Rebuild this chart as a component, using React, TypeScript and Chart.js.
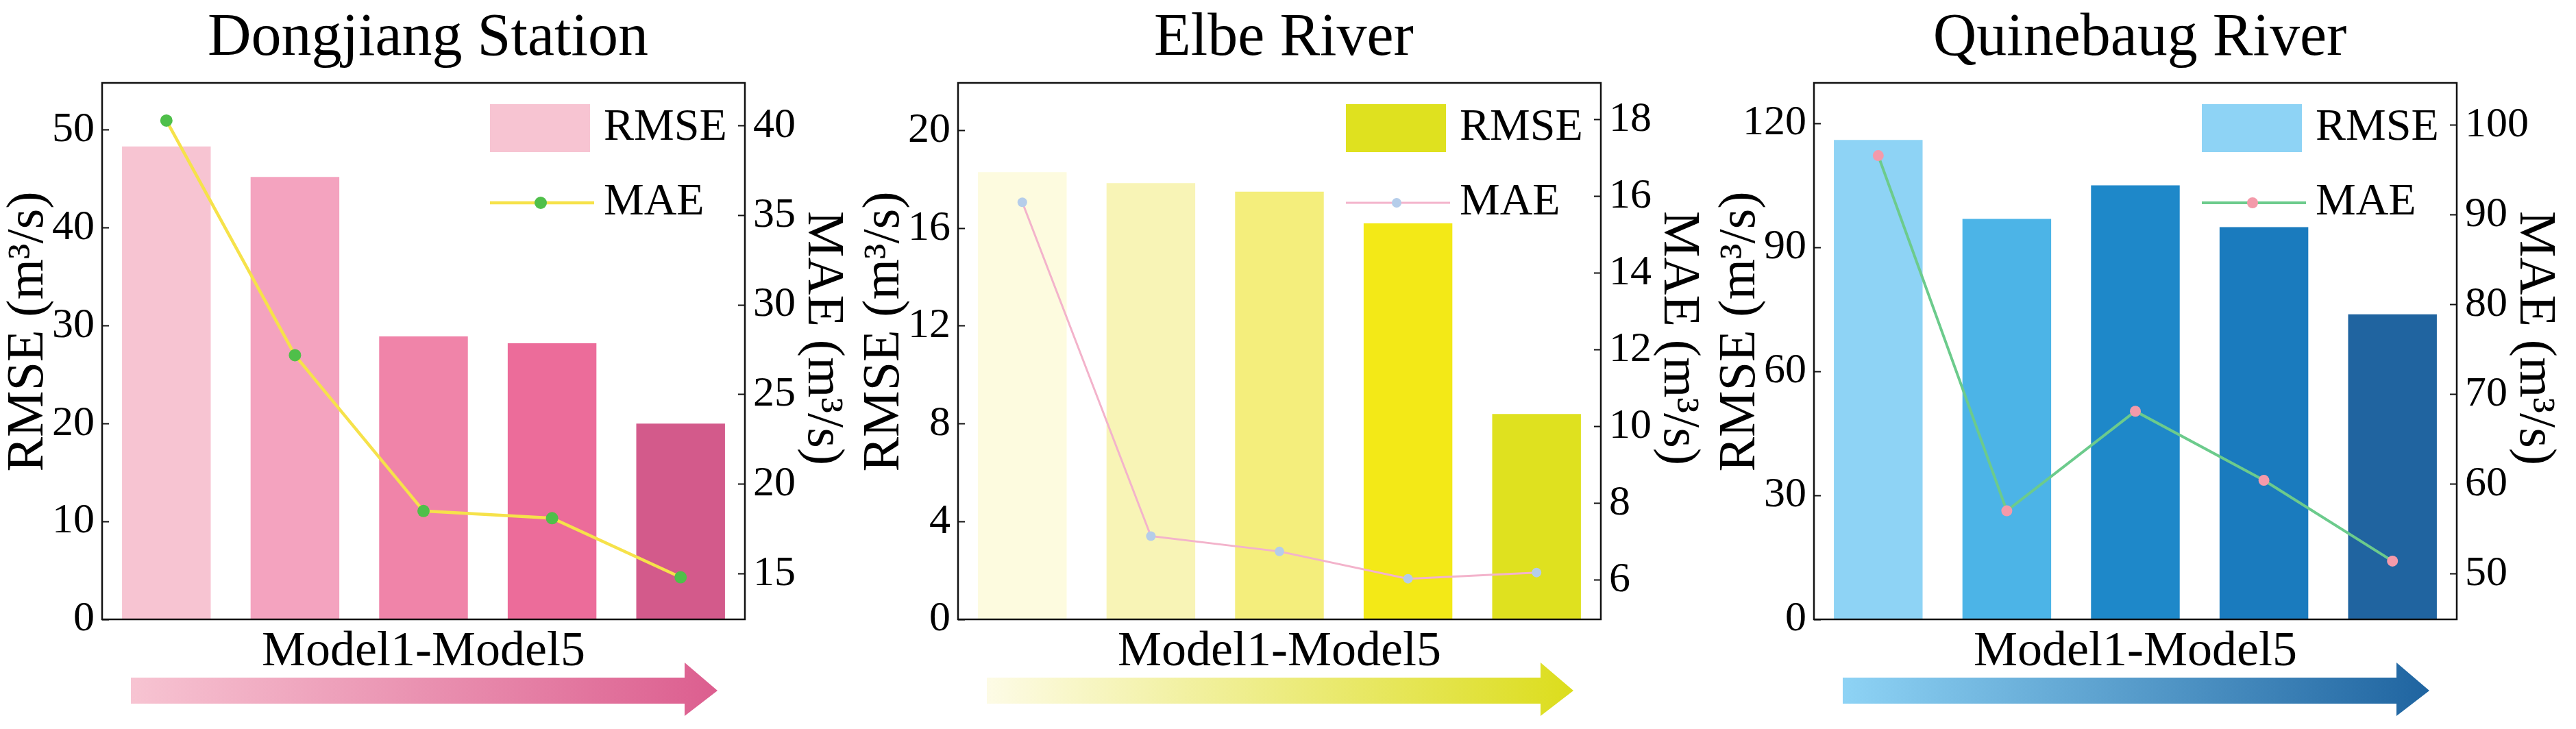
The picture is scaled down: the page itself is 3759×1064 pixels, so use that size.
import React, { useEffect, useRef } from "react";
import { Chart, registerables } from "chart.js";

Chart.register(...registerables);

const categories = ["Model1", "Model2", "Model3", "Model4", "Model5"];

const dongjiangRmse = [48.3, 45.2, 28.9, 28.2, 20.0];
const dongjiangMae = [40.3, 27.2, 18.5, 18.1, 14.8];
const elbeRmse = [18.3, 17.85, 17.5, 16.2, 8.4];
const elbeMae = [15.85, 7.15, 6.75, 6.04, 6.2];
const quinebaugRmse = [116.0, 96.9, 105.0, 94.9, 73.8];
const quinebaugMae = [96.6, 57.0, 68.1, 60.4, 51.4];

// [min, max, step]
const dongjiangLeftAxis = [0, 54.8, 10];
const dongjiangRightAxis = [12.45, 42.4, 5];
const elbeLeftAxis = [0, 21.95, 4];
const elbeRightAxis = [4.98, 18.96, 2];
const quinebaugLeftAxis = [0, 129.8, 30];
const quinebaugRightAxis = [44.9, 104.7, 10];

const PANEL_W = 1249;
const PANEL_H = 1064;
const FONT = "'Liberation Serif', 'Times New Roman', serif";

Chart.defaults.font.family = FONT;
Chart.defaults.color = "#000";

const panels = [
  {
    title: "Dongjiang Station",
    rmse: dongjiangRmse,
    mae: dongjiangMae,
    left: dongjiangLeftAxis,
    right: dongjiangRightAxis,
    bars: ["#F7C4D2", "#F4A3BF", "#F084A9", "#EC6C9A", "#D35A8B"],
    line: "#F6E24A",
    lineWidth: 4.5,
    point: "#4FBF4A",
    pointRadius: 9,
    legendBox: "#F7C4D2",
    arrow: ["#F7C4D2", "#DC5E8F"],
  },
  {
    title: "Elbe River",
    rmse: elbeRmse,
    mae: elbeMae,
    left: elbeLeftAxis,
    right: elbeRightAxis,
    bars: ["#FDFBDF", "#F8F4B6", "#F4EE7C", "#F3E917", "#DFE11F"],
    line: "#F3B3CB",
    lineWidth: 3,
    point: "#B5CDEA",
    pointRadius: 7,
    legendBox: "#DFE11F",
    arrow: ["#FDFBE6", "#DCDD1C"],
  },
  {
    title: "Quinebaug River",
    rmse: quinebaugRmse,
    mae: quinebaugMae,
    left: quinebaugLeftAxis,
    right: quinebaugRightAxis,
    bars: ["#8ED3F5", "#4CB4E7", "#1E88C9", "#1A7BBE", "#2064A0"],
    line: "#6CCB8C",
    lineWidth: 4,
    point: "#F49AAA",
    pointRadius: 8,
    legendBox: "#8ED3F5",
    arrow: ["#8ED3F5", "#1F64A0"],
  },
];

// frame, legend inside the plot and the gradient arrow under the x label
const decor = {
  id: "decor",
  afterDraw(chart: any, _args: any, opts: any) {
    const { ctx, chartArea: a } = chart;
    const bar = chart.data.datasets[0];
    const line = chart.data.datasets[1];
    ctx.save();

    ctx.strokeStyle = "#111";
    ctx.lineWidth = 2.5;
    ctx.strokeRect(a.left, a.top, a.right - a.left, a.bottom - a.top);

    const x0 = a.right - 372;
    const y0 = a.top + 66;
    const y1 = a.top + 175;
    ctx.fillStyle = opts.legendBox;
    ctx.fillRect(x0, y0 - 35, 146, 70);
    ctx.strokeStyle = line.borderColor;
    ctx.lineWidth = line.borderWidth;
    ctx.beginPath();
    ctx.moveTo(x0, y1);
    ctx.lineTo(x0 + 152, y1);
    ctx.stroke();
    ctx.fillStyle = line.pointBackgroundColor;
    ctx.beginPath();
    ctx.arc(x0 + 74, y1, line.pointRadius, 0, Math.PI * 2);
    ctx.fill();
    ctx.fillStyle = "#000";
    ctx.font = `66px ${FONT}`;
    ctx.textBaseline = "middle";
    ctx.textAlign = "left";
    ctx.fillText(bar.label, x0 + 166, y0);
    ctx.fillText(line.label, x0 + 166, y1);

    const bx0 = a.left + 42;
    const bx1 = a.right - 88;
    const tip = a.right - 40;
    const g = ctx.createLinearGradient(bx0, 0, tip, 0);
    g.addColorStop(0, opts.arrow[0]);
    g.addColorStop(1, opts.arrow[1]);
    ctx.fillStyle = g;
    ctx.beginPath();
    ctx.moveTo(bx0, a.bottom + 85);
    ctx.lineTo(bx1, a.bottom + 85);
    ctx.lineTo(bx1, a.bottom + 63);
    ctx.lineTo(tip, a.bottom + 104);
    ctx.lineTo(bx1, a.bottom + 141);
    ctx.lineTo(bx1, a.bottom + 123);
    ctx.lineTo(bx0, a.bottom + 123);
    ctx.closePath();
    ctx.fill();

    ctx.restore();
  },
};

const Panel = ({ cfg, left }: { cfg: any; left: number }) => {
  const chartRef = useRef<HTMLCanvasElement>(null);

  useEffect(() => {
    let chartInstance: Chart | undefined;
    if (chartRef.current) {
      const tickGrid = {
        drawOnChartArea: false,
        drawTicks: true,
        tickLength: -10,
        tickWidth: 2,
        color: "#111",
      };
      chartInstance = new Chart(chartRef.current, {
        type: "bar",
        data: {
          labels: categories,
          datasets: [
            {
              type: "bar",
              label: "RMSE",
              data: cfg.rmse,
              backgroundColor: cfg.bars,
              borderWidth: 0,
              categoryPercentage: 1,
              barPercentage: 0.69,
              yAxisID: "y",
              order: 1,
            },
            {
              type: "line",
              label: "MAE",
              data: cfg.mae,
              borderColor: cfg.line,
              borderWidth: cfg.lineWidth,
              pointBackgroundColor: cfg.point,
              pointBorderWidth: 0,
              pointRadius: cfg.pointRadius,
              tension: 0,
              yAxisID: "y1",
              order: 0,
            },
          ] as any,
        },
        options: {
          animation: false,
          responsive: false,
          devicePixelRatio: 1,
          layout: { padding: 0 },
          plugins: {
            legend: { display: false },
            tooltip: { enabled: false },
            title: {
              display: true,
              text: cfg.title,
              color: "#000",
              font: { family: FONT, size: 88, weight: "normal", lineHeight: 1.2 },
              padding: { top: 4, bottom: 11.4 },
            },
            decor: { legendBox: cfg.legendBox, arrow: cfg.arrow },
          } as any,
          scales: {
            x: {
              type: "category",
              offset: true,
              ticks: { display: false },
              grid: { display: false },
              border: { display: false },
              title: {
                display: true,
                text: "Model1-Model5",
                color: "#000",
                font: { family: FONT, size: 72 },
                padding: { top: 0, bottom: 69 },
              },
              afterFit: (s: any) => {
                s.height = 160;
              },
            },
            y: {
              type: "linear",
              position: "left",
              min: cfg.left[0],
              max: cfg.left[1],
              ticks: {
                stepSize: cfg.left[2],
                includeBounds: false,
                padding: 21,
                color: "#000",
                font: { family: FONT, size: 62 },
              },
              grid: tickGrid,
              border: { display: false },
              title: {
                display: true,
                text: "   RMSE (m³/s)",
                color: "#000",
                font: { family: FONT, size: 76, lineHeight: 1.1 },
                padding: { top: 0, bottom: 0 },
              },
              afterFit: (s: any) => {
                s.width = 149;
              },
            },
            y1: {
              type: "linear",
              position: "right",
              min: cfg.right[0],
              max: cfg.right[1],
              ticks: {
                stepSize: cfg.right[2],
                includeBounds: false,
                padding: 22,
                color: "#000",
                font: { family: FONT, size: 62 },
              },
              grid: tickGrid,
              border: { display: false },
              title: {
                display: true,
                text: "MAE (m³/s)  ",
                color: "#000",
                font: { family: FONT, size: 76, lineHeight: 1.1 },
                padding: { top: 7, bottom: 0 },
              },
              afterFit: (s: any) => {
                s.width = 162;
              },
            },
          } as any,
        },
        plugins: [decor],
      });
    }

    return () => {
      if (chartInstance) {
        chartInstance.destroy();
      }
    };
  }, [cfg]);

  return (
    <canvas
      ref={chartRef}
      width={PANEL_W}
      height={PANEL_H}
      style={{ position: "absolute", left, top: 0, width: PANEL_W, height: PANEL_H }}
    />
  );
};

const App = () => {
  return (
    <div
      style={{
        position: "absolute",
        left: 0,
        top: 0,
        width: 3759,
        height: 1064,
        background: "#fff",
        overflow: "hidden",
      }}
    >
      {panels.map((p, i) => (
        <Panel key={p.title} cfg={p} left={i * PANEL_W} />
      ))}
    </div>
  );
};

export default App;
